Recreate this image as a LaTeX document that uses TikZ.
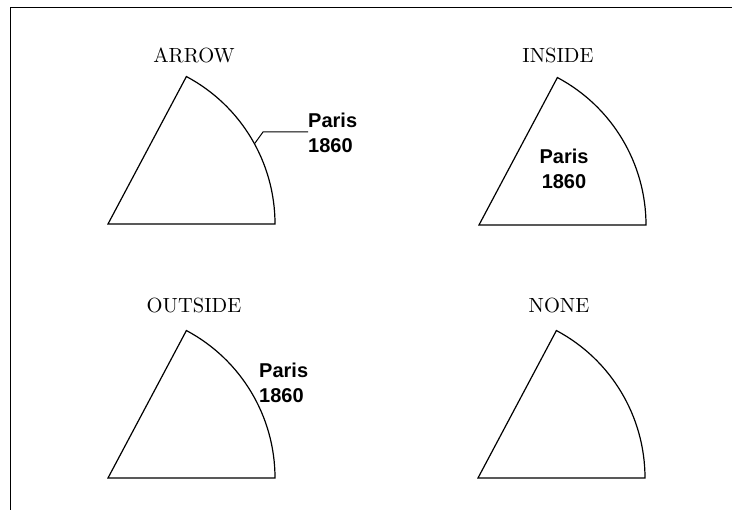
\documentclass[tikz,border=0pt]{standalone}
\usepackage{fontspec}
\usetikzlibrary{calc}
\newfontfamily\labelfont{Liberation Sans}
\newfontfamily\titlefont{lmroman10-regular.otf}
\tikzset{
  wedge/.style={draw=black, line width=1.2pt, line join=miter},
  frame/.style={draw=black, line width=1pt},
  title/.style={anchor=base, inner sep=0pt, font=\titlefont\fontsize{20.5}{24}\selectfont},
  plabel/.style={inner sep=0pt, font=\labelfont\bfseries\fontsize{20}{25}\selectfont},
  leader/.style={draw=black, line width=1pt}
}
\begin{document}
\begin{tikzpicture}[x=1pt,y=1pt]
\useasboundingbox (0,0) rectangle (732,510);
% partial frame
\coordinate (ftr) at (732,502.5);
\coordinate (ftl) at (10,502.5);
\coordinate (fbl) at (10,0);
\draw[frame] (ftr) -- (ftl) -- (fbl);

% ARROW panel
\coordinate (a0) at (108,286);
\draw[wedge] (a0) -- ++(167,0) coordinate (a1) arc[start angle=0,end angle=62,radius=167] coordinate (a2) -- cycle;
\node[title] (ta) at (194,447) {ARROW};
\coordinate (ap) at ($(a0)+(28.7:167)$);
\node[plabel, anchor=west, align=left] (la) at (308,377) {Paris\\1860};
\coordinate (ak) at (263,378);
\draw[leader] (ap) -- (ak) -- (la.west |- ak);

% INSIDE panel
\coordinate (b0) at (479,285);
\draw[wedge] (b0) -- ++(167,0) arc[start angle=0,end angle=62,radius=167] -- cycle;
\node[title] (tb) at (558,447) {INSIDE};
\node[plabel, align=center] (lb) at (564,341) {Paris\\1860};

% OUTSIDE panel
\coordinate (c0) at (108,32);
\draw[wedge] (c0) -- ++(167,0) arc[start angle=0,end angle=62,radius=167] -- cycle;
\node[title] (tc) at (194,197) {OUTSIDE};
\node[plabel, anchor=west, align=left] (lc) at (259,127) {Paris\\1860};

% NONE panel
\coordinate (d0) at (478,32);
\draw[wedge] (d0) -- ++(167,0) arc[start angle=0,end angle=62,radius=167] -- cycle;
\node[title] (td) at (559,197) {NONE};
\end{tikzpicture}
\end{document}
